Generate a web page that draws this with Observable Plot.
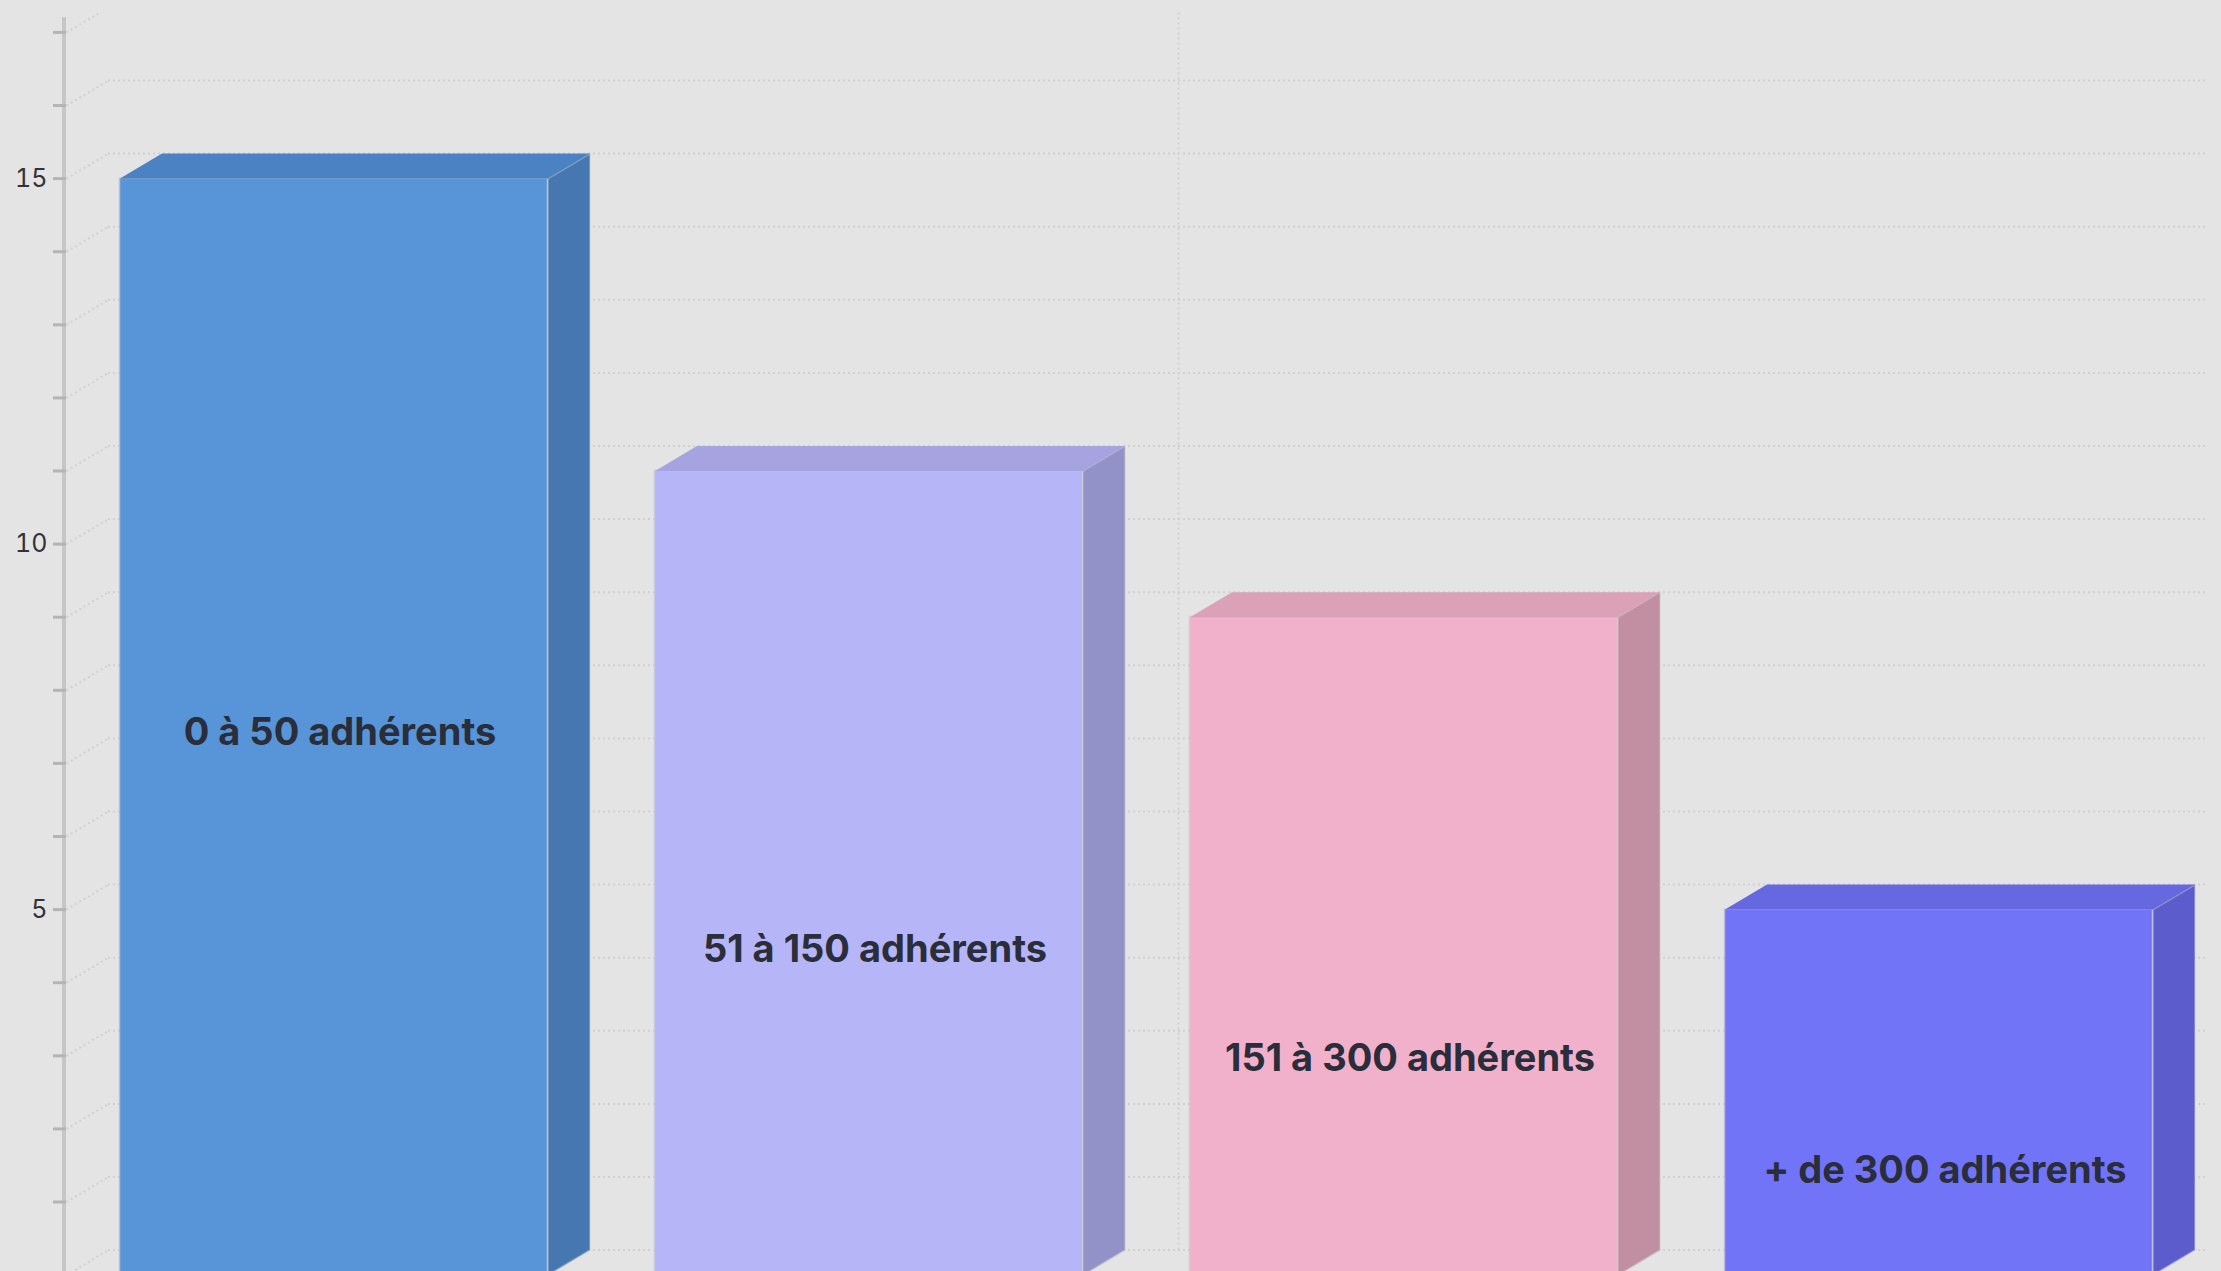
<!DOCTYPE html>
<html><head><meta charset="utf-8">
<script src="https://cdn.jsdelivr.net/npm/d3@7"></script>
<script src="https://cdn.jsdelivr.net/npm/@observablehq/plot@0.6"></script>
<style>
html,body{margin:0;padding:0;background:#e4e4e4;overflow:hidden;}
#chart svg{display:block;}
</style></head><body><div id="chart"></div>
<script>
// ---- data ----
const categories = ["0 à 50 adhérents", "51 à 150 adhérents", "151 à 300 adhérents", "+ de 300 adhérents"];
const values = [15, 11, 9, 5];
const labelAnchors = [7.42, 4.45, 2.96, 1.42];   // value at which each data label sits
const yTicks = [0,1,2,3,4,5,6,7,8,9,10,11,12,13,14,15,16,17];
const yTickLabels = [5, 10, 15];

// ---- styles ----
const frontColors = ["#5794d8", "#b5b5f8", "#f2b1cb", "#7274f8"];
const sideColors  = ["#4677b0", "#9292c8", "#c28fa2", "#5c5ccc"];
const topColors   = ["#4b82c3", "#a5a4e0", "#dba1b6", "#6668e0"];
const gridColor = "#d0d0d0";
const W = 2221, H = 1271;
const depthX = 0.0785, depthY = 0.342; // 3D depth in scale units
const half = 0.4;

const bars = categories.map((c, i) => ({cat: c, i, v: values[i], lp: labelAnchors[i]}));
const xMin = -0.5, xMax = categories.length - 0.5;

const faceMarks = bars.flatMap((b, k) => [
  Plot.rect([b], {x1: d => d.i - half, x2: d => d.i + half, y1: () => 0, y2: d => d.v,
    fill: frontColors[k], stroke: "#c8c8c8", strokeOpacity: 0.45, strokeWidth: 2}),
  Plot.line([
      [b.i + half, 0], [b.i + half, b.v], [b.i + half + depthX, b.v + depthY], [b.i + half + depthX, depthY]
    ], {x: d => d[0], y: d => d[1], fill: sideColors[k], stroke: "#c8c8c8", strokeOpacity: 0.4, strokeWidth: 2, curve: "linear-closed"}),
  Plot.line([
      [b.i - half, b.v], [b.i + half, b.v], [b.i + half + depthX, b.v + depthY], [b.i - half + depthX, b.v + depthY]
    ], {x: d => d[0], y: d => d[1], fill: topColors[k], stroke: "none", curve: "linear-closed"})
]);

const chart = Plot.plot({
  width: W, height: H,
  marginLeft: 66, marginRight: 15, marginTop: 12, marginBottom: 0,
  x: {domain: [xMin, xMax], range: [66, 2206], axis: null},
  y: {domain: [0, 17.2], range: [1274.6, 17.3], axis: null},
  style: {background: "#e4e4e4", fontFamily: "Inter, 'Noto Sans', sans-serif", overflow: "hidden"},
  marks: [
    // back wall horizontal grid
    Plot.ruleY(yTicks, {y: d => d + depthY, x1: () => xMin + depthX, x2: () => xMax + 0.2,
      stroke: gridColor, strokeWidth: 2, strokeDasharray: "2,3", clip: true}),
    // side wall diagonals
    Plot.link(yTicks, {x1: () => xMin, y1: d => d, x2: () => xMin + depthX, y2: d => d + depthY,
      stroke: gridColor, strokeWidth: 2, strokeDasharray: "2,3", clip: true}),
    // back wall vertical grid at middle category boundary
    Plot.ruleX([(categories.length - 1) / 2], {x: d => d + depthX, y1: () => depthY, y2: () => 18,
      stroke: gridColor, strokeWidth: 2, strokeDasharray: "2,3", clip: true}),
    // axis line
    Plot.ruleX([xMin], {y1: () => 0, y2: () => 17.2, stroke: "#c6c6c6", strokeWidth: 4, dx: -2.5}),
    Plot.axisY({ticks: yTicks, tickFormat: d => yTickLabels.includes(d) ? d : "",
      tickSize: 13, tickPadding: 6, stroke: "#b4b4b4", strokeWidth: 3, color: "#333",
      fontSize: 25, anchor: "left", label: null}),
    ...faceMarks,
    Plot.text(bars, {x: "i", y: "lp", text: "cat", fontSize: 38, fontWeight: 700,
      fill: "#2a2d3a", dx: 6})
  ]
});
document.getElementById("chart").appendChild(chart);
</script></body></html>
